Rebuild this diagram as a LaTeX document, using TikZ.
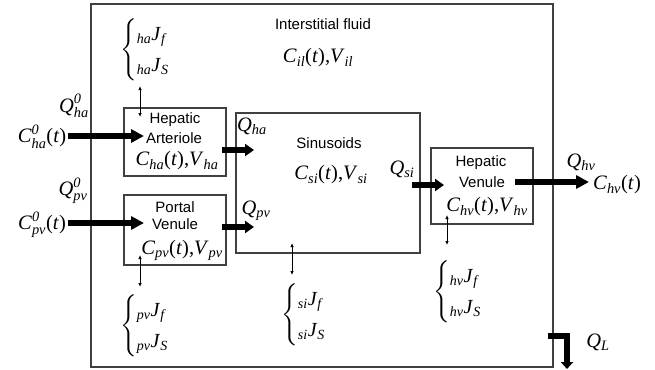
\documentclass[tikz,border=0pt]{standalone}
\usepackage{amsmath}
\usepackage{fontspec}
\setmainfont{Liberation Serif}
\setsansfont{Liberation Sans}
\usetikzlibrary{arrows.meta}
\newcommand\ms[2]{\textit{#1}$_{\text{\itshape #2}}$}
\newcommand\msz[2]{\textit{#1}$^{\text{\itshape 0}}_{\text{\itshape #2}}$}
\newcommand\pj[2]{$_{\text{\itshape #1}}$\textit{J}$_{\text{\itshape #2}}$}
\newcommand\flux[1]{$\left\{\begin{tabular}{@{}l@{}}\rule{0pt}{20pt}\pj{#1}{f}\\[9pt]\rule[-9pt]{0pt}{9pt}\pj{#1}{S}\end{tabular}\right.$}
\begin{document}
\begin{tikzpicture}[x=1pt,y=-1pt,
  box/.style={draw=black!75, line width=1.1pt, inner sep=0pt},
  sf/.style={font=\fontsize{15}{17}\sffamily\selectfont, inner sep=0pt},
  mt/.style={font=\fontsize{20.5}{22}\selectfont, inner sep=0pt},
  fx/.style={font=\fontsize{20}{22}\selectfont, inner sep=0pt, anchor=west},
  bigarrow/.style={line width=5.5pt, -{Triangle[length=13pt,width=13pt]}},
  shortarrow/.style={line width=5.5pt, -{Triangle[length=9pt,width=12pt]}},
  dbl/.style={line width=0.9pt, {Latex[length=4pt,width=3.5pt]}-{Latex[length=4pt,width=3.5pt]}},
]
\useasboundingbox (0,0) rectangle (655,369);
% boxes
\node[box, minimum width=462pt, minimum height=363pt] (outer) at (322,185.5) {};
\node[box, minimum width=102pt, minimum height=68pt] (ha) at (175,142) {};
\node[box, minimum width=102pt, minimum height=70pt] (pv) at (175,230) {};
\node[box, minimum width=184pt, minimum height=140pt] (si) at (328,183) {};
\node[box, minimum width=102pt, minimum height=76pt] (hv) at (482,186) {};
% texts
\node[sf] (ift) at (323,24) {Interstitial fluid};
\node[mt] (ilc) at (318,58) {\ms{C}{il}(\textit{t}),\ms{V}{il}};
\node[sf] (hat1) at (175,120) {Hepatic};
\node[sf] (hat2) at (174,138) {Arteriole};
\node[mt] (hac) at (177,161) {\ms{C}{ha}(\textit{t}),\ms{V}{ha}};
\node[sf] (pvt1) at (175,207) {Portal};
\node[sf] (pvt2) at (175,224) {Venule};
\node[mt] (pvc) at (182,250) {\ms{C}{pv}(\textit{t}),\ms{V}{pv}};
\node[sf] (sit) at (329,143) {Sinusoids};
\node[mt] (sic) at (331,175) {\ms{C}{si}(\textit{t}),\ms{V}{si}};
\node[sf] (hvt1) at (481,163) {Hepatic};
\node[sf] (hvt2) at (482,182) {Venule};
\node[mt] (hvc) at (487,207) {\ms{C}{hv}(\textit{t}),\ms{V}{hv}};
% flow labels
\node[mt] (qha0) at (74,106) {$\textit{Q}^{\text{\itshape 0}}_{\text{\itshape ha}}$};
\node[mt] (cha0) at (42,137) {\msz{C}{ha}(\textit{t})};
\node[mt] (qpv0) at (73,191) {$\textit{Q}^{\text{\itshape 0}}_{\text{\itshape pv}}$};
\node[mt] (cpv0) at (42,225) {\msz{C}{pv}(\textit{t})};
\node[mt] (qha) at (252,126) {\ms{Q}{ha}};
\node[mt] (qpv) at (256,211) {\ms{Q}{pv}};
\node[mt] (qsi) at (402,169) {\ms{Q}{si}};
\node[mt] (qhv) at (581,162) {\ms{Q}{hv}};
\node[mt] (chvout) at (617,185) {\ms{C}{hv}(\textit{t})};
\node[mt] (ql) at (598,342) {\ms{Q}{L}};
% flux braces
\node[fx] (haf) at (120,50) {\flux{ha}};
\node[fx] (pvf) at (120,326) {\flux{pv}};
\node[fx] (sif) at (281,315) {\flux{si}};
\node[fx] (hvf) at (433,292) {\flux{hv}};
% connector coordinates
\coordinate (a1) at (68,136);   \coordinate (a2) at (144,136);
\coordinate (b1) at (68,223);   \coordinate (b2) at (144,223);
\coordinate (c1) at (222,150);  \coordinate (c2) at (254,150);
\coordinate (d1) at (222,227);  \coordinate (d2) at (254,227);
\coordinate (e1) at (412,185);  \coordinate (e2) at (444,185);
\coordinate (f1) at (515,182);  \coordinate (f2) at (589,182);
\coordinate (g1) at (548,336);  \coordinate (g2) at (567,369);
\coordinate (h1) at (140,86);   \coordinate (h2) at (140,117);
\coordinate (i1) at (140,255);  \coordinate (i2) at (140,287);
\coordinate (j1) at (292,243);  \coordinate (j2) at (292,275);
\coordinate (k1) at (447,215);  \coordinate (k2) at (447,245);
% thick flows
\draw[bigarrow] (a1) -- (a2);
\draw[bigarrow] (b1) -- (b2);
\draw[shortarrow] (c1) -- (c2);
\draw[shortarrow] (d1) -- (d2);
\draw[shortarrow] (e1) -- (e2);
\draw[bigarrow] (f1) -- (f2);
\draw[line width=6pt, -{Triangle[length=7pt,width=12pt]}] (g1) -| (g2);
% exchange arrows
\draw[dbl] (h1) -- (h2);
\draw[dbl] (i1) -- (i2);
\draw[dbl] (j1) -- (j2);
\draw[dbl] (k1) -- (k2);
\end{tikzpicture}
\end{document}
